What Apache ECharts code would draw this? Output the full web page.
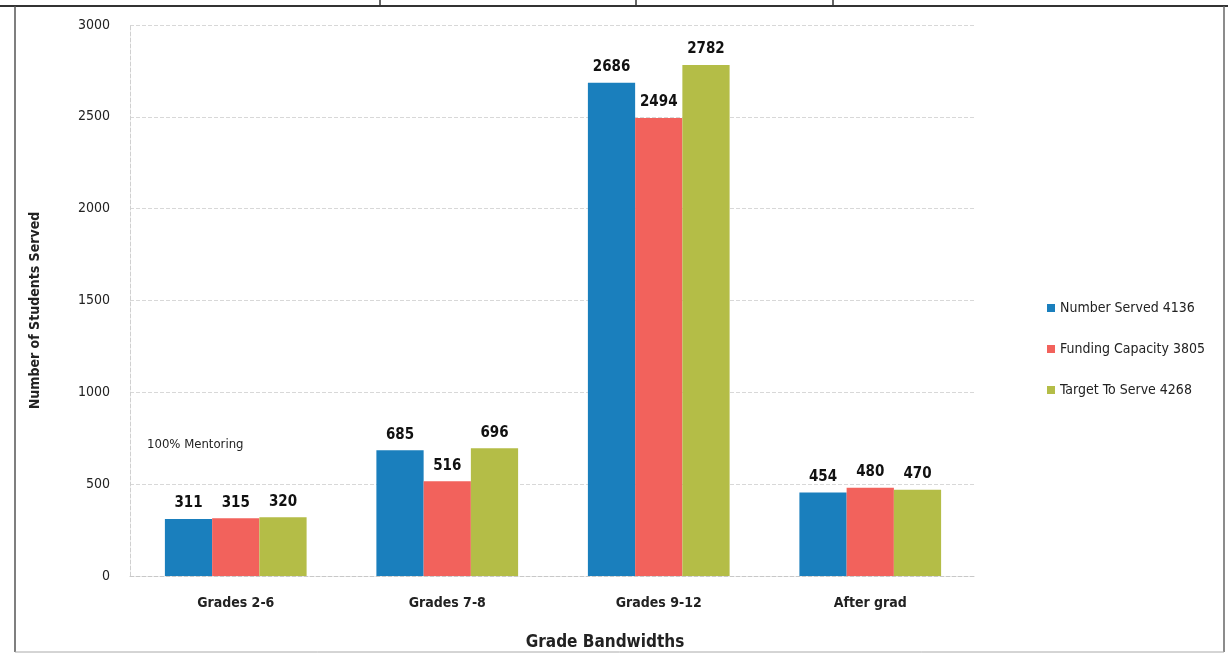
<!DOCTYPE html>
<html>
<head>
<meta charset="utf-8">
<script src="https://cdn.jsdelivr.net/npm/echarts@6/dist/echarts.min.js"></script>
<style>
  html, body { margin: 0; padding: 0; background: #ffffff; }
  #chart { width: 1228px; height: 656px; }
</style>
</head>
<body>
<div id="chart"></div>
<script>
// Students served per grade band
const categories = ['Grades 2-6', 'Grades 7-8', 'Grades 9-12', 'After grad'];
const numberServed = [311, 685, 2686, 454];
const fundingCapacity = [315, 516, 2494, 480];
const targetToServe = [320, 696, 2782, 470];
const seriesNames = ['Number Served 4136', 'Funding Capacity 3805', 'Target To Serve 4268'];
const yTicks = [0, 500, 1000, 1500, 2000, 2500, 3000];

const font = "'DejaVu Sans Condensed', 'Liberation Sans Narrow', 'Open Sans', sans-serif";
const colors = ['#1a7fbd', '#f2625c', '#b4bd47'];

const chart = echarts.init(document.getElementById('chart'), null, { renderer: 'canvas' });

const labelStyle = {
  show: true,
  position: 'top',
  distance: 8,
  fontFamily: font,
  fontWeight: 'bold',
  fontSize: 15,
  color: '#111'
};

function bar(name, data, color) {
  return {
    name: name,
    type: 'bar',
    data: data,
    barGap: '0%',
    barCategoryGap: '33%',
    itemStyle: { color: color },
    label: labelStyle
  };
}

chart.setOption({
  animation: false,
  color: colors,
  grid: { left: 130, right: 252, top: 25, bottom: 78 },
  legend: {
    orient: 'vertical',
    left: 1042,
    top: 296,
    itemGap: 27,
    itemWidth: 8,
    itemHeight: 8,
    icon: 'rect',
    textStyle: { fontFamily: font, fontSize: 14, color: '#222' },
    data: seriesNames
  },
  xAxis: {
    type: 'category',
    data: categories,
    name: 'Grade Bandwidths',
    nameLocation: 'middle',
    nameGap: 58,
    nameTextStyle: { fontFamily: font, fontWeight: 'bold', fontSize: 17, color: '#222', padding: [0, 0, 0, 104] },
    axisLine: { lineStyle: { color: '#c8c8c8', type: 'dashed' } },
    axisTick: { show: false },
    axisLabel: { margin: 20, fontFamily: font, fontWeight: 'bold', fontSize: 14, color: '#222' }
  },
  yAxis: {
    type: 'value',
    min: 0,
    max: yTicks[yTicks.length - 1],
    interval: yTicks[1] - yTicks[0],
    name: 'Number of Students Served',
    nameLocation: 'middle',
    nameGap: 88,
    nameTextStyle: { fontFamily: font, fontWeight: 'bold', fontSize: 14, color: '#222', padding: [0, 20, 0, 0] },
    axisLine: { show: true, lineStyle: { color: '#d0d0d0', type: 'dashed' } },
    axisTick: { show: false },
    axisLabel: { margin: 20, fontFamily: font, fontSize: 14, color: '#222', formatter: v => String(v) },
    splitLine: { lineStyle: { color: '#d8d8d8', type: 'dashed' } }
  },
  graphic: [
    // page frame
    { type: 'line', shape: { x1: 0, y1: 6, x2: 1228, y2: 6 }, style: { stroke: '#333', lineWidth: 2 } },
    { type: 'line', shape: { x1: 15, y1: 6, x2: 15, y2: 652 }, style: { stroke: '#555', lineWidth: 1.5 } },
    { type: 'line', shape: { x1: 1224, y1: 6, x2: 1224, y2: 652 }, style: { stroke: '#666', lineWidth: 1.5 } },
    { type: 'line', shape: { x1: 15, y1: 652, x2: 1224, y2: 652 }, style: { stroke: '#aaa', lineWidth: 1 } },
    { type: 'line', shape: { x1: 380, y1: 0, x2: 380, y2: 6 }, style: { stroke: '#333', lineWidth: 1.5 } },
    { type: 'line', shape: { x1: 636, y1: 0, x2: 636, y2: 6 }, style: { stroke: '#333', lineWidth: 1.5 } },
    { type: 'line', shape: { x1: 833, y1: 0, x2: 833, y2: 6 }, style: { stroke: '#333', lineWidth: 1.5 } },
    {
      type: 'text',
      left: 147,
      top: 438,
      style: { text: '100% Mentoring', fontFamily: font, fontSize: 13, fill: '#222' }
    }
  ],
  series: [
    bar(seriesNames[0], numberServed, colors[0]),
    bar(seriesNames[1], fundingCapacity, colors[1]),
    bar(seriesNames[2], targetToServe, colors[2])
  ]
});
</script>
</body>
</html>
